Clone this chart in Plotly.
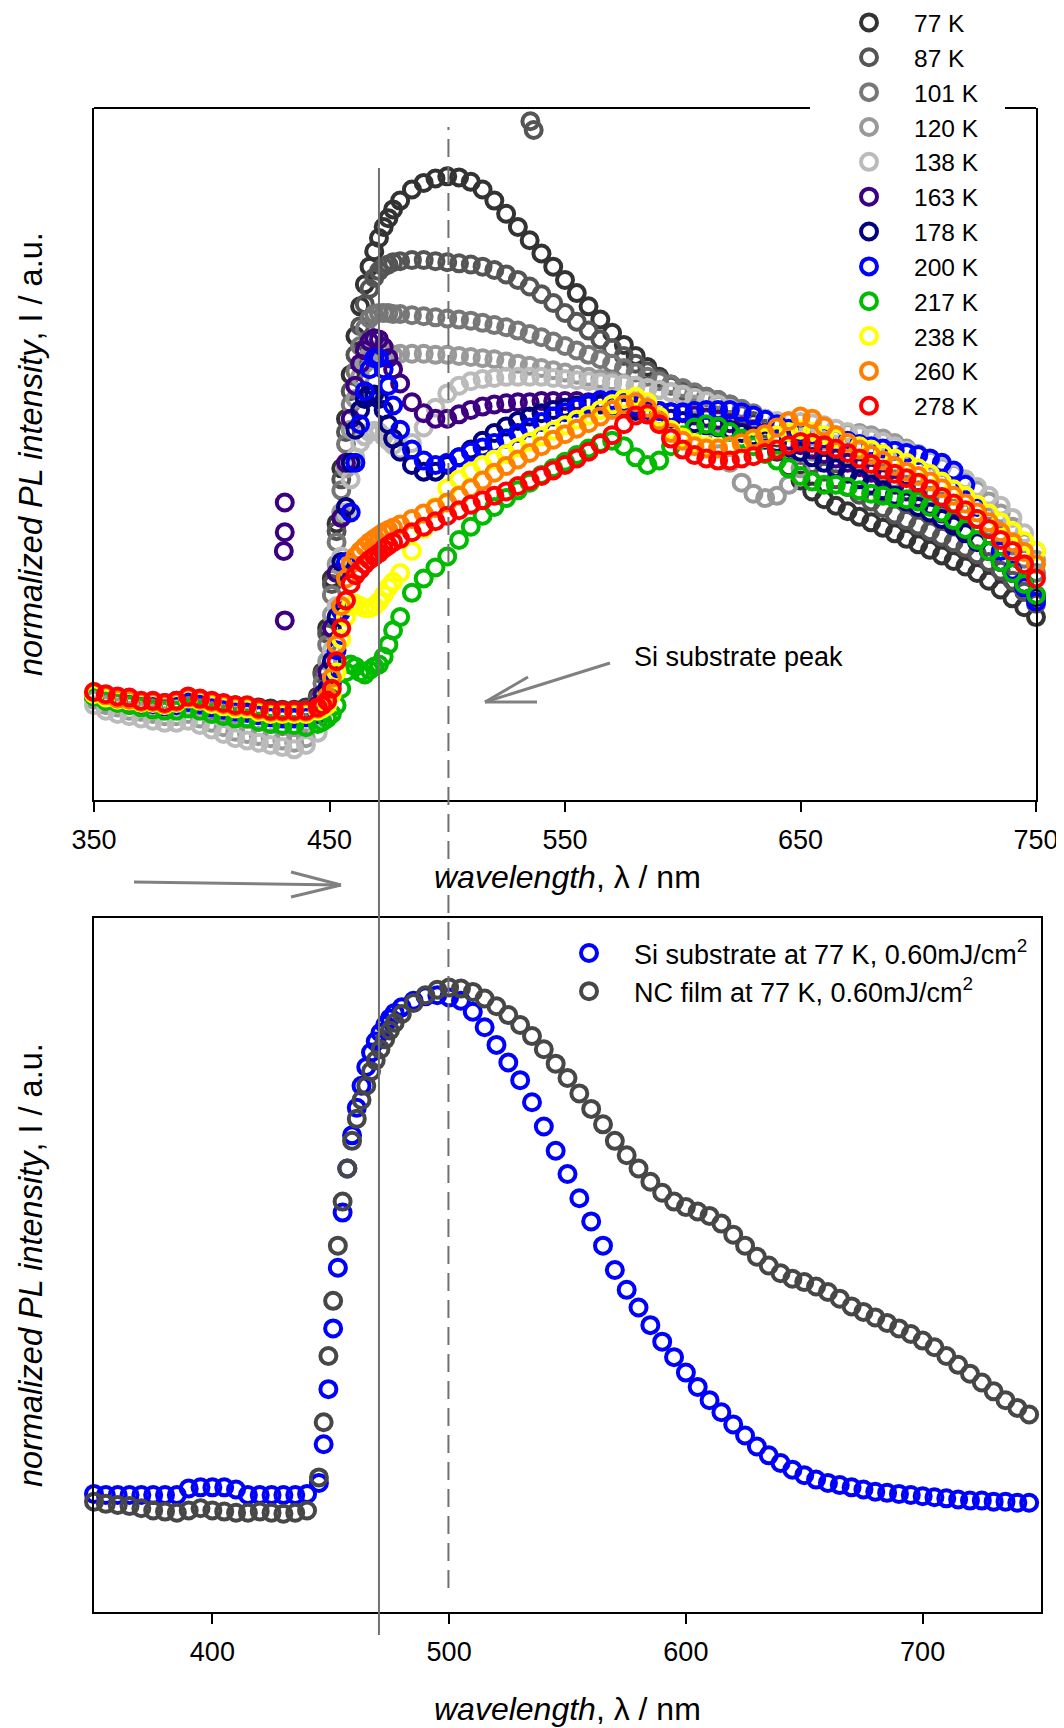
import plotly.graph_objects as go

# ---------------- data: top panel (temperature series) ----------------
WL_TOP = [350, 355, 360, 365, 370, 375, 380, 385, 390, 395, 400, 405, 410, 415, 420, 425, 430, 435, 440, 445,
          447, 449, 451, 453, 455, 457, 459, 461, 463, 465, 467, 469, 471, 473, 475, 477,
          480, 485, 490, 495, 500, 505, 510, 515, 520, 525, 530, 535, 540, 545, 550, 555, 560, 565, 570, 575,
          580, 585, 590, 595, 600, 605, 610, 615, 620, 625, 630, 635, 640, 645, 650, 655, 660, 665, 670, 675,
          680, 685, 690, 695, 700, 705, 710, 715, 720, 725, 730, 735, 740, 745, 750]

I_77K = [5, 1, -1, -2, -3, -2, -3, -1, 0, -2, -5, -5, -5, -6, -7, -8, -9, -9, -7, 3,
         25, 65, 110, 160, 210, 255, 295, 330, 357, 377, 393, 407, 419, 429, 437, 445,
         453, 463, 469, 473, 475, 474, 470, 463, 453, 441, 429, 417, 405, 393, 381, 369, 357, 345, 333, 322,
         312, 302, 293, 286, 281, 278, 275, 272, 268, 261, 251, 239, 225, 211, 199, 189, 182, 176, 171, 166,
         161, 156, 151, 146, 141, 136, 131, 126, 121, 115, 108, 100, 92, 84, 75]
I_87K = [3, 0, -1, -3, -2, -3, -4, -2, -1, -3, -5, -6, -6, -7, -9, -10, -11, -11, -9, 1,
         23, 60, 105, 153, 200, 243, 280, 313, 339, 359, 373, 383, 389, 393, 395, 397,
         398, 399, 399, 398, 397, 396, 395, 393, 390, 386, 381, 375, 368, 360, 351, 343, 335, 327, 319, 312,
         305, 298, 291, 285, 280, 276, 272, 268, 264, 259, 253, 246, 238, 230, 222, 214, 207, 200, 193, 186,
         180, 174, 168, 163, 158, 153, 148, 143, 138, 132, 125, 117, 108, 98, 87]
I_101K = [2, -2, -3, -5, -5, -6, -7, -6, -5, -7, -11, -13, -15, -17, -20, -22, -24, -25, -22, -5,
          15, 50, 95, 143, 190, 232, 268, 298, 321, 337, 346, 350, 351, 351, 351, 350,
          350, 349, 348, 347, 346, 345, 344, 342, 340, 338, 335, 332, 329, 325, 321, 317, 313, 309, 305, 301,
          297, 293, 289, 286, 283, 279, 275, 272, 268, 264, 260, 255, 250, 245, 240, 235, 230, 225, 220, 215,
          210, 205, 200, 195, 190, 185, 180, 175, 170, 164, 157, 149, 140, 128, 115]
I_120K = [0, -5, -7, -10, -11, -13, -15, -15, -13, -17, -21, -25, -29, -31, -33, -35, -37, -39, -35, -15,
          3, 35, 77, 123, 170, 210, 245, 273, 293, 305, 313, 317, 318, 317, 315, 313,
          314, 314, 314, 313, 313, 312, 311, 310, 309, 307, 305, 303, 301, 299, 297, 295, 293, 291, 289, 287,
          285, 283, 281, 279, 276, 268, 255, 237, 215, 197, 187, 183, 185, 195, 210, 225, 235, 240, 242, 242,
          240, 237, 233, 228, 223, 217, 211, 205, 198, 190, 180, 169, 157, 143, 127]
I_138K = [-5, -10, -13, -15, -17, -19, -21, -21, -19, -23, -27, -31, -35, -37, -39, -41, -43, -45, -41, -30,
          -15, 10, 45, 85, 130, 170, 200, 220, 233, 239, 243, 244, 243, 239, 235, 231,
          227, 233, 247, 265, 278, 285, 289, 291, 292, 293, 293, 293, 293, 292, 291, 290, 289, 288, 287, 286,
          285, 283, 281, 279, 277, 274, 271, 268, 264, 261, 258, 255, 253, 252, 252, 251, 249, 246, 243, 240,
          237, 234, 230, 226, 222, 217, 212, 206, 200, 193, 185, 176, 165, 151, 135]
I_163K = [5, 2, 0, -1, -2, -2, -4, -2, 1, -1, -3, -5, -6, -7, -9, -10, -11, -11, -10, -5,
          5, 25, 65, 115, 165, 215, 255, 285, 305, 317, 325, 328, 327, 320, 310, 300,
          287, 270, 260, 255, 255, 259, 263, 266, 268, 269, 270, 270, 271, 271, 271, 271, 270, 269, 268, 267,
          265, 263, 262, 261, 260, 258, 256, 254, 251, 248, 245, 242, 239, 235, 231, 227, 223, 219, 215, 211,
          206, 201, 195, 189, 183, 176, 169, 161, 153, 144, 135, 125, 115, 105, 95]
I_178K = [4, 1, -1, -2, -3, -3, -5, -3, -1, -2, -5, -7, -8, -9, -11, -13, -14, -14, -13, -10,
          -3, 10, 35, 75, 125, 175, 215, 245, 263, 273, 277, 277, 273, 263, 250, 237,
          225, 213, 207, 207, 213, 220, 227, 235, 242, 248, 253, 257, 260, 263, 265, 267, 268, 268, 267, 265,
          262, 259, 257, 255, 253, 251, 249, 247, 245, 242, 239, 236, 233, 229, 225, 220, 215, 210, 205, 200,
          195, 190, 185, 180, 175, 170, 164, 158, 151, 143, 135, 125, 115, 105, 93]
I_200K = [5, 1, -1, -3, -4, -4, -6, -5, -2, -4, -7, -9, -11, -12, -14, -16, -17, -17, -16, -13,
          -7, 0, 15, 45, 80, 125, 170, 215, 250, 280, 300, 310, 310, 300, 285, 267,
          245, 227, 217, 213, 215, 220, 225, 229, 233, 237, 242, 247, 252, 257, 261, 265, 269, 272, 272, 270,
          267, 264, 262, 261, 261, 262, 263, 263, 263, 261, 258, 254, 250, 246, 243, 241, 239, 237, 235, 232,
          230, 228, 226, 224, 222, 219, 215, 208, 195, 175, 155, 135, 117, 102, 89]
I_217K = [3, -1, -3, -5, -7, -9, -10, -10, -8, -10, -13, -15, -17, -17, -20, -22, -23, -23, -25, -22,
          -20, -17, -13, -5, 10, 25, 32, 30, 25, 23, 27, 30, 32, 39, 50, 63,
          75, 97, 110, 120, 130, 145, 157, 167, 175, 183, 190, 197, 204, 210, 216, 222, 228, 233, 235, 230,
          220, 213, 217, 230, 240, 247, 250, 248, 243, 237, 230, 223, 217, 210, 203, 198, 195, 195, 193, 190,
          187, 185, 183, 182, 180, 175, 170, 163, 155, 145, 135, 125, 115, 105, 95]
I_238K = [5, 2, 0, -1, -3, -3, -5, -3, 1, -1, -4, -6, -8, -8, -11, -13, -13, -13, -13, -10,
          -8, -5, 5, 25, 55, 75, 85, 87, 85, 83, 83, 85, 89, 95, 102, 107,
          115, 135, 155, 175, 192, 200, 207, 213, 218, 223, 229, 234, 239, 244, 249, 254, 258, 263, 268, 273,
          275, 270, 257, 245, 238, 233, 230, 229, 230, 232, 235, 238, 240, 243, 245, 243, 240, 237, 233, 230,
          227, 223, 219, 215, 210, 205, 198, 191, 185, 177, 169, 161, 153, 144, 135]
I_260K = [7, 4, 1, 0, -2, -2, -4, -2, 2, 0, -2, -4, -6, -6, -9, -11, -11, -11, -11, -8,
          -5, 3, 20, 50, 85, 110, 123, 130, 135, 139, 143, 146, 149, 152, 154, 156,
          159, 164, 169, 174, 179, 185, 192, 199, 206, 212, 218, 224, 230, 236, 241, 246, 251, 257, 263, 268,
          270, 265, 253, 242, 235, 230, 228, 228, 230, 233, 237, 241, 247, 253, 257, 255, 248, 240, 233, 227,
          222, 217, 212, 207, 203, 198, 192, 185, 178, 170, 161, 152, 143, 134, 123]
I_278K = [7, 5, 3, 2, -1, -1, -3, -1, 3, 1, -1, -3, -5, -5, -8, -10, -10, -10, -10, -7,
          -5, -1, 10, 35, 65, 90, 105, 113, 118, 123, 127, 130, 133, 137, 140, 143,
          146, 152, 157, 162, 167, 172, 177, 181, 185, 189, 194, 199, 203, 208, 213, 219, 225, 232, 240, 250,
          258, 259, 250, 237, 227, 222, 219, 217, 217, 219, 221, 224, 227, 231, 234, 233, 231, 228, 224, 219,
          214, 209, 205, 201, 197, 191, 184, 178, 172, 164, 155, 145, 135, 123, 110]

# isolated spikes
SPIKE_87K_WL = [535.3, 536.7]
SPIKE_87K_I = [525, 517]
SPIKE_163K_WL = [431.0, 431.0, 430.6, 431.0]
SPIKE_163K_I = [179, 152, 135, 72]

TEMPS = ["77 K", "87 K", "101 K", "120 K", "138 K", "163 K", "178 K", "200 K", "217 K", "238 K", "260 K", "278 K"]
TEMP_COLORS = ["#333333", "#555555", "#777777", "#999999", "#bbbbbb", "#3d0080", "#000080",
               "#0000ff", "#00bb00", "#ffff00", "#ff8000", "#ff0000"]
TOP_SERIES = [I_77K, I_87K, I_101K, I_120K, I_138K, I_163K, I_178K, I_200K, I_217K, I_238K, I_260K, I_278K]
TOP_TICKS = [350, 450, 550, 650, 750]

# ---------------- data: bottom panel ----------------
WL_BOT = [350, 355, 360, 365, 370, 375, 380, 385, 390, 395, 400, 405, 410, 415, 420, 425, 430, 435, 440, 445,
          447, 449, 451, 453, 455, 457, 459, 461, 463, 465, 467, 469, 471, 473, 475, 477,
          480, 485, 490, 495, 500, 505, 510, 515, 520, 525, 530, 535, 540, 545, 550, 555, 560, 565, 570, 575,
          580, 585, 590, 595, 600, 605, 610, 615, 620, 625, 630, 635, 640, 645, 650, 655, 660, 665, 670, 675,
          680, 685, 690, 695, 700, 705, 710, 715, 720, 725, 730, 735, 740, 745]
I_SI = [2, 1, 1, 1, 1, 1, 1, 1, 7, 8, 8, 8, 6, 1, 1, 1, 1, 1, 2, 12,
        47, 97, 152, 207, 257, 297, 327, 352, 372, 389, 402, 412, 420, 427, 433, 438,
        443, 449, 453, 454, 452, 449, 439, 425, 409, 393, 377, 357, 335, 313, 292, 270, 249, 227, 205, 187,
        171, 155, 140, 126, 112, 99, 87, 76, 65, 55, 45, 37, 30, 24, 19, 15, 12, 10, 8, 6,
        4, 3, 2, 1, 0, -1, -2, -3, -4, -4, -5, -5, -6, -6]
I_NC = [-5, -7, -8, -9, -11, -13, -14, -15, -13, -11, -13, -14, -15, -15, -14, -15, -16, -15, -13, 17,
        67, 127, 177, 227, 267, 297, 322, 342, 359, 372, 385, 395, 405, 414, 422, 429,
        437, 447, 454, 459, 461, 460, 457, 451, 444, 436, 427, 417, 405, 392, 379, 365, 351, 337, 322, 309,
        297, 285, 275, 267, 262, 258, 254, 247, 237, 227, 217, 209, 202, 197, 194, 190, 185, 179, 172, 167,
        162, 157, 152, 147, 141, 135, 127, 119, 111, 103, 95, 87, 80, 74]
BOT_NAMES = ["Si substrate at 77 K, 0.60mJ/cm<sup>2</sup>", "NC film at 77 K, 0.60mJ/cm<sup>2</sup>"]
BOT_COLORS = ["#0000ff", "#474747"]
BOT_TICKS = [400, 500, 600, 700]

SOLID_LINE_WL = 471
DASHED_LINE_WL = 500.5

# ---------------- figure ----------------
# the page body has an 8 px margin, so the figure is made 8 px smaller and
# every layout position below is given in window pixels
OFF = 8
W, H = 1064 - OFF, 1728 - OFF
FONT = "Arial, Liberation Sans, sans-serif"


def px(x):
    return (x - OFF) / W


def py(y):
    return 1 - (y - OFF) / H


MS, MLW = 16, 4
fig = go.Figure()
for name, color, vals in zip(TEMPS, TEMP_COLORS, TOP_SERIES):
    fig.add_trace(go.Scatter(x=WL_TOP, y=vals, mode="markers", name=name, cliponaxis=False,
                             marker=dict(symbol="circle-open", size=MS, color=color, line=dict(width=MLW)),
                             xaxis="x", yaxis="y", legend="legend"))
    if name == "87 K":
        fig.add_trace(go.Scatter(x=SPIKE_87K_WL, y=SPIKE_87K_I, mode="markers", showlegend=False,
                                 cliponaxis=False,
                                 marker=dict(symbol="circle-open", size=MS, color=color, line=dict(width=MLW)),
                                 xaxis="x", yaxis="y"))
    if name == "163 K":
        fig.add_trace(go.Scatter(x=SPIKE_163K_WL, y=SPIKE_163K_I, mode="markers", showlegend=False,
                                 cliponaxis=False,
                                 marker=dict(symbol="circle-open", size=MS, color=color, line=dict(width=MLW)),
                                 xaxis="x", yaxis="y"))

for name, color, vals in zip(BOT_NAMES, BOT_COLORS, [I_SI, I_NC]):
    fig.add_trace(go.Scatter(x=WL_BOT, y=vals, mode="markers", name=name, cliponaxis=False,
                             marker=dict(symbol="circle-open", size=MS, color=color, line=dict(width=MLW)),
                             xaxis="x2", yaxis="y2", legend="legend2"))

axis_common = dict(showgrid=False, zeroline=False, showline=True, linecolor="black", linewidth=2)
xcommon = dict(axis_common, ticks="outside", ticklen=10, tickwidth=2, tickcolor="black",
               tickfont=dict(family=FONT, size=27, color="black"), ticklabelstandoff=5)

fig.update_layout(
    width=W, height=H, margin=dict(l=0, r=0, t=0, b=0, autoexpand=False),
    paper_bgcolor="white", plot_bgcolor="rgba(0,0,0,0)",
    font=dict(family=FONT, color="black"),
    xaxis=dict(xcommon, domain=[px(94), px(1036)], range=[350, 750], anchor="y",
               tickvals=TOP_TICKS, mirror=False),
    yaxis=dict(axis_common, domain=[py(800), py(108)], range=[-91, 537], anchor="x",
               mirror=True, showticklabels=False, ticks=""),
    xaxis2=dict(xcommon, domain=[px(94), px(1041)], range=[350, 750], anchor="y2",
                tickvals=BOT_TICKS, mirror=True),
    yaxis2=dict(axis_common, domain=[py(1612), py(918)], range=[-105, 524], anchor="x2",
                mirror=True, showticklabels=False, ticks=""),
    legend=dict(x=px(824), y=py(0), xanchor="left", yanchor="top", bgcolor="rgba(0,0,0,0)",
                font=dict(family=FONT, size=24.5, color="black"), itemwidth=80, tracegroupgap=0),
    legend2=dict(x=px(544), y=py(929), xanchor="left", yanchor="top", bgcolor="rgba(0,0,0,0)",
                 font=dict(family=FONT, size=27, color="black"), itemwidth=80, tracegroupgap=0),
)

GRAY = "#808080"
shapes = [
    # top border of upper panel, interrupted by the legend
    dict(type="line", xref="paper", yref="paper", x0=px(94), x1=px(810), y0=py(108), y1=py(108),
         line=dict(color="black", width=2)),
    dict(type="line", xref="paper", yref="paper", x0=px(1005), x1=px(1036), y0=py(108), y1=py(108),
         line=dict(color="black", width=2)),
    # reference lines
    dict(type="line", xref="x", yref="paper", x0=SOLID_LINE_WL, x1=SOLID_LINE_WL, y0=py(1635), y1=py(168),
         line=dict(color="#707070", width=2)),
    dict(type="line", xref="x", yref="paper", x0=DASHED_LINE_WL, x1=DASHED_LINE_WL, y0=py(1588), y1=py(127),
         line=dict(color="#707070", width=2, dash="18px,9px")),
    # Si substrate peak arrow
    dict(type="line", xref="paper", yref="paper", x0=px(610), y0=py(663), x1=px(485), y1=py(702),
         line=dict(color=GRAY, width=3)),
    dict(type="line", xref="paper", yref="paper", x0=px(485), y0=py(702), x1=px(528), y1=py(677),
         line=dict(color=GRAY, width=3)),
    dict(type="line", xref="paper", yref="paper", x0=px(485), y0=py(702), x1=px(537), y1=py(702),
         line=dict(color=GRAY, width=3)),
    # arrow between panels
    dict(type="line", xref="paper", yref="paper", x0=px(134), y0=py(882), x1=px(341), y1=py(885),
         line=dict(color=GRAY, width=3)),
    dict(type="line", xref="paper", yref="paper", x0=px(341), y0=py(885), x1=px(291), y1=py(872),
         line=dict(color=GRAY, width=3)),
    dict(type="line", xref="paper", yref="paper", x0=px(341), y0=py(885), x1=px(291), y1=py(897),
         line=dict(color=GRAY, width=3)),
]
fig.update_layout(shapes=shapes)

XTITLE = "<i>wavelength</i>, λ / nm"
YTITLE = "<i>normalized PL intensity</i>, I / a.u."
ann = [
    dict(text=XTITLE, x=px(567), y=py(877), xref="paper", yref="paper", showarrow=False,
         xanchor="center", yanchor="middle", font=dict(family=FONT, size=32, color="black")),
    dict(text=XTITLE, x=px(567), y=py(1709), xref="paper", yref="paper", showarrow=False,
         xanchor="center", yanchor="middle", font=dict(family=FONT, size=32, color="black")),
    dict(text=YTITLE, x=px(31), y=py(454), xref="paper", yref="paper", showarrow=False, textangle=-90,
         xanchor="center", yanchor="middle", font=dict(family=FONT, size=32.5, color="black")),
    dict(text=YTITLE, x=px(31), y=py(1265), xref="paper", yref="paper", showarrow=False, textangle=-90,
         xanchor="center", yanchor="middle", font=dict(family=FONT, size=32.5, color="black")),
    dict(text="Si substrate peak", x=px(632), y=py(657), xref="paper", yref="paper", showarrow=False,
         xanchor="left", yanchor="middle", font=dict(family=FONT, size=27, color="black")),
]
fig.update_layout(annotations=ann)

fig.write_html("out.html")
